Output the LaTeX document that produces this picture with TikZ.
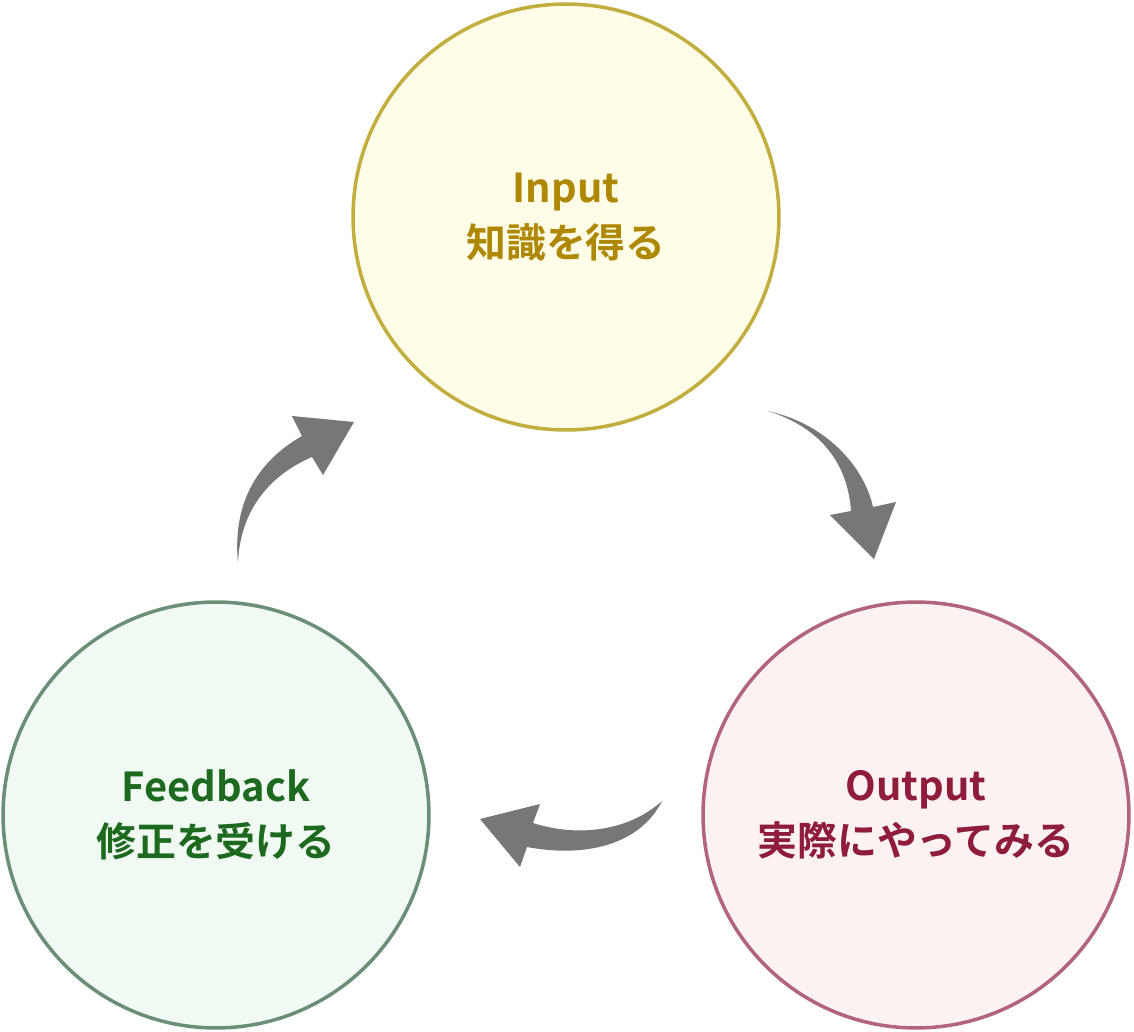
\documentclass[tikz,border=0pt]{standalone}
\usepackage{fontspec}
\setmainfont{Noto Sans CJK JP}[BoldFont={* Bold}]
\definecolor{inline}{HTML}{C2AE3E}
\definecolor{infill}{HTML}{FFFDE8}
\definecolor{intext}{HTML}{AE8800}
\definecolor{outline}{HTML}{B2637E}
\definecolor{outfill}{HTML}{FDF2F2}
\definecolor{outtext}{HTML}{8E1C3A}
\definecolor{fbline}{HTML}{6A8E76}
\definecolor{fbfill}{HTML}{F0FAF2}
\definecolor{fbtext}{HTML}{1C6A1E}
\definecolor{arrowgray}{HTML}{777777}
\tikzset{
  stage/.style={circle, draw, line width=2pt, minimum size=8.52cm, align=center,
    font=\bfseries\fontsize{22.7}{31}\selectfont},
  turn/.style={fill=arrowgray, draw=none}
}
\begin{document}
\begin{tikzpicture}[x=0.02cm, y=-0.02cm]
  \useasboundingbox (0,0) rectangle (1134,1032);
  % Nodes
  \draw (566,217) node(in) [stage, draw=inline, fill=infill, text=intext] {Input\\知識を得る};
  \draw (916,815) node(out) [stage, draw=outline, fill=outfill, text=outtext] {Output\\実際にやってみる};
  \draw (216,815) node(fb) [stage, draw=fbline, fill=fbfill, text=fbtext] {Feedback\\修正を受ける};

  % Edges
  \fill[turn] (238,563) .. controls (232,500) and (260,460) .. (302,436)
    -- (292,416) -- (354,422) -- (323,475) -- (312,457)
    .. controls (270,475) and (240,510) .. (238,563) -- cycle;
  \fill[turn] (768,411) .. controls (830,425) and (865,470) .. (873,507)
    -- (896,502) -- (874,559) -- (830,515) -- (851,511)
    .. controls (848,465) and (822,428) .. (768,411) -- cycle;
  \fill[turn] (662,801) .. controls (640,845) and (585,858) .. (527,847)
    -- (520,867) -- (480,819) -- (540,804) -- (533,823)
    .. controls (580,838) and (630,830) .. (662,801) -- cycle;
\end{tikzpicture}
\end{document}
